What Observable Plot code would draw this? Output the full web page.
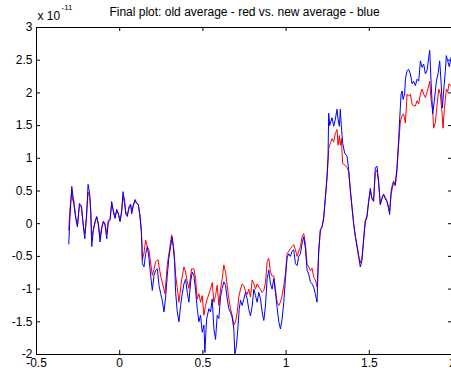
<!DOCTYPE html>
<html><head><meta charset="utf-8">
<script src="https://cdn.jsdelivr.net/npm/d3@7"></script>
<script src="https://cdn.jsdelivr.net/npm/@observablehq/plot@0.6"></script>
<style>html,body{margin:0;padding:0;background:#fff;overflow:hidden}</style>
</head><body><div id="chart"></div>
<script>
const titleText = "Final plot: old average - red vs. new average - blue";
const exponentBase = "x 10";
const exponentPower = "-11";
const xTicks = [-0.5, 0, 0.5, 1, 1.5, 2];
const yTicks = [-2, -1.5, -1, -0.5, 0, 0.5, 1, 1.5, 2, 2.5, 3];

const blueX = [-0.306,-0.300,-0.288,-0.282,-0.276,-0.264,-0.254,-0.242,-0.230,-0.218,-0.210,-0.200,-0.190,-0.180,-0.174,-0.168,-0.158,-0.148,-0.138,-0.128,-0.118,-0.108,-0.098,-0.088,-0.078,-0.068,-0.058,-0.048,-0.038,-0.028,-0.018,-0.008,0.002,0.012,0.020,0.030,0.036,0.046,0.056,0.066,0.072,0.082,0.092,0.102,0.112,0.122,0.130,0.134,
0.136,0.146,0.156,0.166,0.176,0.186,0.196,0.206,0.216,0.226,0.236,0.246,0.256,0.266,0.276,0.286,0.296,0.306,0.316,0.322,0.330,0.336,0.346,0.356,0.366,0.376,0.386,0.396,0.406,0.416,0.426,0.436,0.446,0.456,0.466,0.476,0.486,0.496,0.506,0.512,0.522,0.536,
0.546,0.556,0.566,0.576,0.586,0.596,0.606,0.616,0.626,0.636,0.646,0.656,0.666,0.676,0.686,0.692,0.702,0.710,0.718,0.726,0.736,0.746,0.756,0.766,0.776,0.786,0.796,0.806,0.816,0.826,0.836,0.846,0.856,0.866,0.876,0.886,0.896,0.906,0.916,0.926,0.936,0.946,0.956,0.966,0.976,0.986,0.996,
1.006,1.016,1.026,1.036,1.046,1.056,1.066,1.076,1.086,1.096,1.106,1.116,1.126,1.136,1.146,1.156,1.166,1.176,1.186,1.196,1.206,1.216,1.226,1.236,1.246,1.252,1.256,1.262,1.266,1.276,1.286,1.296,1.306,1.312,1.320,1.326,1.332,1.340,1.352,1.366,1.376,1.386,1.396,1.406,1.416,1.426,1.436,1.446,1.456,1.466,
1.476,1.486,1.496,1.506,1.516,1.526,1.536,1.546,1.556,1.566,1.576,1.586,1.596,1.606,1.616,1.622,1.631,1.639,1.646,1.656,1.666,1.676,1.682,1.691,1.697,1.703,1.712,1.718,1.727,1.736,1.747,1.757,1.766,1.777,1.787,1.797,1.807,1.817,1.827,1.837,1.847,1.857,1.863,1.871,1.881,1.891,1.903,1.913,1.923,1.931,1.939,1.947,1.957,1.963,1.971,1.981,1.991];
const blueY = [-0.31,0.05,0.57,0.45,0.31,0.08,-0.05,0.31,0.27,-0.05,-0.23,0.08,0.6,0.45,0.18,-0.35,-0.08,0.03,0.11,-0.02,-0.28,-0.07,0.03,-0.02,-0.23,0.03,0.05,0.34,0.18,0.08,0.22,0.15,0.03,0.18,0.49,0.34,0.15,0.11,0.26,0.3,0.15,0.29,0.37,0.31,0.29,0.11,-0.12,-0.38,
-0.61,-0.66,-0.46,-0.35,-0.53,-0.79,-1.02,-0.79,-0.71,-0.69,-0.94,-1.07,-1.17,-1.35,-1.12,-0.79,-0.51,-0.35,-0.2,-0.35,-0.58,-1.05,-1.35,-1.5,-1.25,-1.07,-0.92,-0.85,-1.05,-1.2,-0.89,-0.74,-0.79,-1.02,-1.3,-1.5,-1.4,-1.66,-1.55,-1.97,-1.46,-1.3,
-1.35,-1.15,-1.61,-1.77,-1.4,-1.45,-1.12,-0.99,-0.89,-0.94,-1.15,-1.3,-1.36,-1.43,-1.61,-2.0,-1.86,-1.61,-1.31,-1.17,-1.25,-1.15,-1.05,-1.15,-1.31,-1.41,-1.26,-1.0,-1.1,-1.2,-1.05,-1.15,-1.35,-1.48,-1.26,-0.84,-0.71,-0.92,-1.0,-0.84,-1.05,-1.28,-1.5,-1.61,-1.46,-1.2,-0.84,
-0.52,-0.46,-0.5,-0.42,-0.4,-0.61,-0.64,-0.5,-0.46,-0.3,-0.2,-0.38,-0.71,-0.77,-0.89,-0.92,-0.97,-1.08,-1.2,-0.4,-0.09,-0.05,0.1,0.41,0.72,1.03,1.69,1.5,1.54,1.62,1.49,1.6,1.75,1.6,1.49,1.75,1.49,1.23,1.08,1.03,0.83,0.52,0.26,0.0,-0.2,-0.35,-0.51,-0.66,-0.56,-0.25,
0.03,0.1,0.34,0.54,0.38,0.34,0.85,0.88,0.65,0.29,0.38,0.45,0.38,0.34,0.23,0.14,0.49,0.6,0.65,0.6,0.85,1.26,1.57,1.98,2.03,1.9,1.98,2.23,2.34,2.36,2.29,2.14,2.18,2.11,2.21,2.18,2.49,2.39,2.44,2.29,2.34,2.54,2.65,2.18,1.68,1.88,2.18,2.29,2.49,2.18,1.77,2.03,2.34,2.57,2.49,2.4,2.54];

const redX = [-0.306,-0.300,-0.288,-0.282,-0.276,-0.264,-0.254,-0.242,-0.230,-0.218,-0.210,-0.200,-0.190,-0.180,-0.174,-0.168,-0.158,-0.148,-0.138,-0.128,-0.118,-0.108,-0.098,-0.088,-0.078,-0.068,-0.058,-0.048,-0.038,-0.028,-0.018,-0.008,0.002,0.012,0.020,0.030,0.036,0.046,0.056,0.066,0.072,0.082,0.092,0.102,0.112,0.122,0.130,0.134,
0.136,0.146,0.156,0.166,0.176,0.186,0.196,0.206,0.216,0.230,0.246,0.256,0.272,0.286,0.296,0.312,0.326,0.336,0.346,0.356,0.372,0.386,0.396,0.406,0.416,0.432,0.446,0.456,0.466,0.476,0.486,0.496,0.506,0.516,0.526,
0.546,0.556,0.566,0.576,0.586,0.596,0.606,0.616,0.626,0.636,0.646,0.656,0.666,0.676,0.686,0.696,0.706,0.716,0.726,0.736,0.746,0.756,0.766,0.776,0.786,0.796,0.806,0.816,0.826,0.836,0.846,0.856,0.866,0.876,0.886,0.896,0.906,0.916,0.926,0.936,0.946,0.956,0.966,0.976,0.986,0.996,1.006,
1.016,1.026,1.036,1.046,1.056,1.066,1.076,1.086,1.096,1.106,1.116,1.126,1.136,1.146,1.156,1.166,1.176,1.186,1.196,1.206,1.216,1.226,1.236,1.246,1.252,1.256,1.266,1.276,1.286,1.296,1.306,1.312,1.320,1.326,1.332,1.340,1.352,1.366,1.376,1.386,1.396,1.406,1.416,1.426,1.436,1.446,1.456,1.466,
1.476,1.486,1.496,1.506,1.516,1.526,1.536,1.546,1.556,1.566,1.576,1.586,1.596,1.606,1.616,1.622,1.631,1.639,1.646,1.656,1.666,1.676,1.687,1.697,1.706,1.717,1.727,1.736,1.747,1.757,1.766,1.777,1.787,1.797,1.807,1.817,1.827,1.837,1.847,1.857,1.863,1.871,1.881,1.887,1.897,1.907,1.917,1.927,1.937,1.943,1.951,1.963,1.971,1.979,1.991];
const redY = [-0.1,0.2,0.5,0.35,0.36,0.1,-0.02,0.28,0.25,-0.05,-0.15,0.1,0.48,0.4,0.2,-0.2,-0.1,0.02,0.1,0.0,-0.22,-0.05,0.04,0.0,-0.15,0.05,0.08,0.3,0.2,0.1,0.2,0.15,0.05,0.2,0.42,0.3,0.18,0.14,0.24,0.28,0.18,0.28,0.34,0.32,0.3,0.12,-0.1,-0.35,
-0.55,-0.45,-0.25,-0.35,-0.4,-0.6,-0.79,-0.7,-0.58,-0.55,-0.8,-0.9,-1.07,-0.63,-0.45,-0.17,-0.4,-0.79,-0.98,-1.2,-0.86,-0.66,-0.74,-0.89,-0.99,-0.69,-0.69,-0.84,-1.15,-1.07,-1.2,-1.1,-1.4,-1.25,-1.15,
-1.0,-0.9,-1.2,-1.1,-0.94,-1.25,-1.0,-0.84,-0.63,-0.74,-0.94,-1.15,-1.3,-1.4,-1.55,-1.5,-1.36,-1.12,-1.0,-0.92,-0.95,-1.03,-1.08,-1.0,-1.12,-0.86,-0.92,-1.0,-0.92,-0.97,-1.0,-1.05,-1.02,-0.9,-0.58,-0.53,-0.74,-0.8,-0.8,-1.0,-1.2,-1.25,-1.2,-1.1,-0.95,-0.76,-0.46,
-0.42,-0.38,-0.35,-0.32,-0.4,-0.5,-0.42,-0.35,-0.2,-0.15,-0.3,-0.62,-0.66,-0.72,-0.68,-0.82,-0.86,-0.97,-0.45,-0.1,-0.05,0.08,0.38,0.7,0.95,1.15,1.23,1.3,1.25,1.38,1.44,1.2,1.35,1.2,1.3,0.92,0.9,0.86,0.8,0.5,0.25,0.0,-0.18,-0.33,-0.48,-0.6,-0.52,-0.22,
0.05,0.12,0.34,0.5,0.38,0.36,0.78,0.82,0.62,0.3,0.4,0.45,0.4,0.35,0.25,0.18,0.45,0.55,0.62,0.58,0.8,1.2,1.57,1.65,1.68,1.54,1.98,1.95,1.98,1.83,1.8,1.8,1.88,1.83,1.98,2.06,1.98,1.93,2.01,2.11,2.18,1.9,1.72,1.46,1.55,1.8,2.06,1.98,1.7,1.46,1.75,2.06,2.01,2.14,2.1];

const font = "'Liberation Sans', Arial, sans-serif";
const chart = Plot.plot({
  width: 451, height: 377,
  marginLeft: 36, marginRight: -1, marginTop: 27, marginBottom: 23,
  style: {fontFamily: font, fontSize: "12px", color: "#000", background: "#fff"},
  x: {domain: [-0.5, 2]},
  y: {domain: [-2, 3]},
  marks: [
    // inward tick marks on all four sides (MATLAB box style)
    Plot.gridX(xTicks, {stroke: "#000", strokeOpacity: 1, strokeWidth: 1, strokeDasharray: "4,319,4,2000"}),
    Plot.gridY(yTicks, {stroke: "#000", strokeOpacity: 1, strokeWidth: 1, strokeDasharray: "4,408,4,2000"}),
    Plot.line(redX, {x: redX, y: redY, stroke: "#ff0000", strokeWidth: 1}),
    Plot.line(blueX, {x: blueX, y: blueY, stroke: "#0000ff", strokeWidth: 1}),
    Plot.frame({stroke: "#000"}),
    Plot.axisX(xTicks, {anchor: "bottom", tickSize: 0, tickPadding: 4, tickFormat: d => String(d), fontSize: 12}),
    Plot.axisY(yTicks, {anchor: "left", tickSize: 0, tickPadding: 4, tickFormat: d => String(d), fontSize: 12}),
    Plot.text([titleText], {text: d => d, frameAnchor: "top", dy: -12, lineAnchor: "bottom", fontSize: 12}),
    Plot.text([exponentBase], {text: d => d, frameAnchor: "top-left", dx: 1, dy: -8, textAnchor: "start", lineAnchor: "bottom", fontSize: 12}),
    Plot.text([exponentPower], {text: d => d, frameAnchor: "top-left", dx: 25, dy: -18, textAnchor: "start", lineAnchor: "bottom", fontSize: 8})
  ]
});
document.getElementById("chart").appendChild(chart);
</script>
</body></html>
